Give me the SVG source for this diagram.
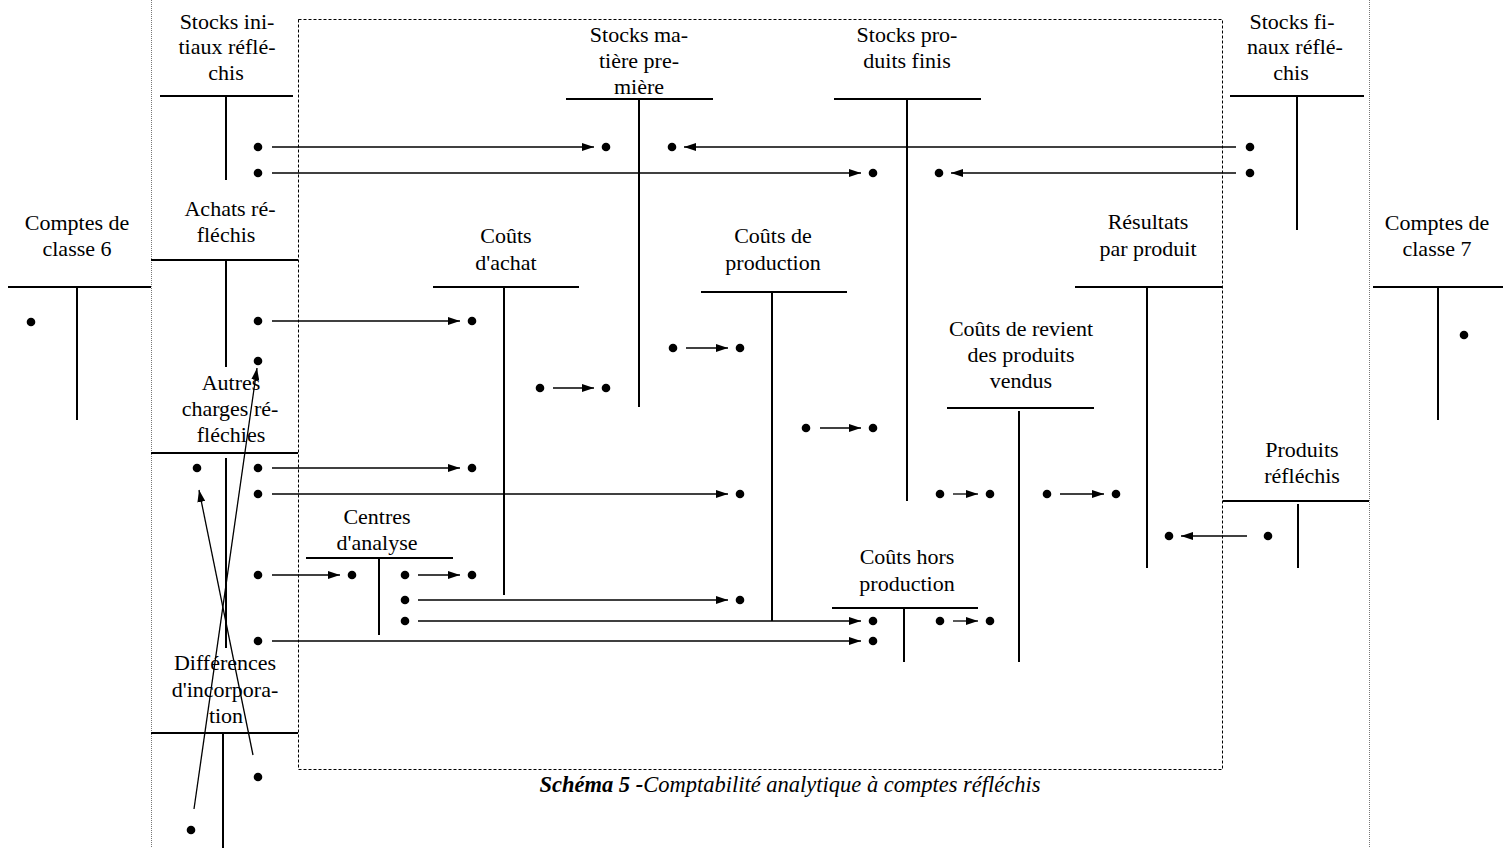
<svg xmlns="http://www.w3.org/2000/svg" width="1506" height="848" viewBox="0 0 1506 848">
<style>
text{font-family:"Liberation Serif","Times New Roman",serif;font-size:22px;fill:#000;text-anchor:middle}
.t{stroke:#000;stroke-width:2;fill:none}
.c{stroke:#000;stroke-width:1.3;fill:none}
.a{stroke:#000;stroke-width:1.3;fill:none;marker-end:url(#ah)}
.d{fill:#000}
.cap{font-size:22.5px;font-style:italic;text-anchor:middle}
</style>
<defs>
<marker id="ah" markerWidth="12" markerHeight="8" refX="12" refY="4" orient="auto" markerUnits="userSpaceOnUse">
<path d="M0,0 L12,4 L0,8 Z" fill="#000"/>
</marker>
</defs>
<rect width="1506" height="848" fill="#fff"/>
<g id="frame">
<line x1="151.5" y1="0" x2="151.5" y2="848" stroke="#777" stroke-width="1" stroke-dasharray="1,1"/>
<line x1="1369.5" y1="0" x2="1369.5" y2="848" stroke="#777" stroke-width="1" stroke-dasharray="1,1"/>
<rect x="298.5" y="19.5" width="924" height="750" fill="none" stroke="#000" stroke-width="1" stroke-dasharray="3,2"/>
</g>
<g id="comptes6">
<line class="t" x1="8" y1="287" x2="151" y2="287"/><line class="t" x1="77" y1="287" x2="77" y2="420"/>
<text x="77" y="230">Comptes de</text><text x="77" y="256">classe 6</text>
<circle class="d" cx="31" cy="322" r="4.3"/>
</g>
<g id="stocks-initiaux">
<line class="t" x1="160" y1="96" x2="293" y2="96"/><line class="t" x1="226" y1="96" x2="226" y2="180"/>
<text x="227" y="29">Stocks ini-</text><text x="227" y="54">tiaux réflé-</text><text x="226" y="80">chis</text>
<circle class="d" cx="258" cy="147" r="4.3"/><circle class="d" cx="258" cy="173" r="4.3"/>
</g>
<g id="achats">
<line class="t" x1="151" y1="260" x2="298" y2="260"/><line class="t" x1="226" y1="260" x2="226" y2="367"/>
<text x="230" y="216">Achats ré-</text><text x="226" y="242">fléchis</text>
<circle class="d" cx="258" cy="321" r="4.3"/><circle class="d" cx="258" cy="361" r="4.3"/>
</g>
<g id="autres-charges">
<line class="t" x1="151" y1="453" x2="298" y2="453"/><line class="t" x1="226" y1="458" x2="226" y2="648"/>
<text x="231" y="390">Autres</text><text x="230" y="416">charges ré-</text><text x="231" y="442">fléchies</text>
<circle class="d" cx="197" cy="468" r="4.3"/><circle class="d" cx="258" cy="468" r="4.3"/>
<circle class="d" cx="258" cy="494" r="4.3"/><circle class="d" cx="258" cy="575" r="4.3"/>
<circle class="d" cx="258" cy="641" r="4.3"/>
</g>
<g id="differences">
<line class="t" x1="151" y1="733" x2="298" y2="733"/><line class="t" x1="223" y1="733" x2="223" y2="848"/>
<text x="225" y="670">Différences</text><text x="225" y="697">d'incorpora-</text><text x="226" y="723">tion</text>
<circle class="d" cx="258" cy="777" r="4.3"/><circle class="d" cx="191" cy="830" r="4.3"/>
</g>
<g id="centres">
<line class="t" x1="306" y1="558" x2="453" y2="558"/><line class="t" x1="379" y1="558" x2="379" y2="635"/>
<text x="377" y="524">Centres</text><text x="377" y="550">d'analyse</text>
<circle class="d" cx="352" cy="575" r="4.3"/><circle class="d" cx="405" cy="575" r="4.3"/>
<circle class="d" cx="405" cy="600" r="4.3"/><circle class="d" cx="405" cy="621" r="4.3"/>
</g>
<g id="couts-achat">
<line class="t" x1="433" y1="287" x2="579" y2="287"/><line class="t" x1="504" y1="287" x2="504" y2="595"/>
<text x="506" y="243">Coûts</text><text x="506" y="270">d'achat</text>
<circle class="d" cx="472" cy="321" r="4.3"/><circle class="d" cx="472" cy="468" r="4.3"/>
<circle class="d" cx="472" cy="575" r="4.3"/><circle class="d" cx="540" cy="388" r="4.3"/>
</g>
<g id="stocks-mp">
<line class="t" x1="566" y1="99" x2="713" y2="99"/><line class="t" x1="639" y1="99" x2="639" y2="407"/>
<text x="639" y="42">Stocks ma-</text><text x="639" y="68">tière pre-</text><text x="639" y="94">mière</text>
<circle class="d" cx="606" cy="147" r="4.3"/><circle class="d" cx="672" cy="147" r="4.3"/>
<circle class="d" cx="606" cy="388" r="4.3"/>
</g>
<g id="couts-production">
<line class="t" x1="701" y1="292" x2="847" y2="292"/><line class="t" x1="772" y1="292" x2="772" y2="621"/>
<text x="773" y="243">Coûts de</text><text x="773" y="270">production</text>
<circle class="d" cx="673" cy="348" r="4.3"/><circle class="d" cx="740" cy="348" r="4.3"/>
<circle class="d" cx="740" cy="494" r="4.3"/><circle class="d" cx="740" cy="600" r="4.3"/>
<circle class="d" cx="806" cy="428" r="4.3"/>
</g>
<g id="stocks-pf">
<line class="t" x1="834" y1="99" x2="981" y2="99"/><line class="t" x1="907" y1="99" x2="907" y2="501"/>
<text x="907" y="42">Stocks pro-</text><text x="907" y="68">duits finis</text>
<circle class="d" cx="873" cy="173" r="4.3"/><circle class="d" cx="939" cy="173" r="4.3"/>
<circle class="d" cx="873" cy="428" r="4.3"/><circle class="d" cx="940" cy="494" r="4.3"/>
</g>
<g id="couts-revient">
<line class="t" x1="947" y1="408" x2="1094" y2="408"/><line class="t" x1="1019" y1="411" x2="1019" y2="662"/>
<text x="1021" y="336">Coûts de revient</text><text x="1021" y="362">des produits</text><text x="1021" y="388">vendus</text>
<circle class="d" cx="990" cy="494" r="4.3"/><circle class="d" cx="1047" cy="494" r="4.3"/>
<circle class="d" cx="990" cy="621" r="4.3"/>
</g>
<g id="couts-hors-production">
<line class="t" x1="832" y1="608" x2="978" y2="608"/><line class="t" x1="904" y1="608" x2="904" y2="662"/>
<text x="907" y="564">Coûts hors</text><text x="907" y="591">production</text>
<circle class="d" cx="873" cy="621" r="4.3"/><circle class="d" cx="873" cy="641" r="4.3"/>
<circle class="d" cx="940" cy="621" r="4.3"/>
</g>
<g id="resultats">
<line class="t" x1="1075" y1="287" x2="1222" y2="287"/><line class="t" x1="1147" y1="287" x2="1147" y2="568"/>
<text x="1148" y="229">Résultats</text><text x="1148" y="256">par produit</text>
<circle class="d" cx="1116" cy="494" r="4.3"/><circle class="d" cx="1169" cy="536" r="4.3"/>
</g>
<g id="stocks-finaux">
<line class="t" x1="1230" y1="96" x2="1364" y2="96"/><line class="t" x1="1297" y1="96" x2="1297" y2="230"/>
<text x="1292" y="29">Stocks fi-</text><text x="1295" y="54">naux réflé-</text><text x="1291" y="80">chis</text>
<circle class="d" cx="1250" cy="147" r="4.3"/><circle class="d" cx="1250" cy="173" r="4.3"/>
</g>
<g id="comptes7">
<line class="t" x1="1373" y1="287" x2="1503" y2="287"/><line class="t" x1="1438" y1="287" x2="1438" y2="420"/>
<text x="1437" y="230">Comptes de</text><text x="1437" y="256">classe 7</text>
<circle class="d" cx="1464" cy="335" r="4.3"/>
</g>
<g id="produits-reflechis">
<line class="t" x1="1223" y1="501" x2="1369" y2="501"/><line class="t" x1="1298" y1="504" x2="1298" y2="568"/>
<text x="1302" y="457">Produits</text><text x="1302" y="483">réfléchis</text>
<circle class="d" cx="1268" cy="536" r="4.3"/>
</g>
<g id="connectors">
<line class="a" x1="272" y1="147" x2="594" y2="147"/>
<line class="a" x1="272" y1="173" x2="861" y2="173"/>
<line class="a" x1="1236" y1="147" x2="684" y2="147"/>
<line class="a" x1="1236" y1="173" x2="951" y2="173"/>
<line class="a" x1="272" y1="321" x2="460" y2="321"/>
<line class="a" x1="553" y1="388" x2="594" y2="388"/>
<line class="a" x1="686" y1="348" x2="728" y2="348"/>
<line class="a" x1="820" y1="428" x2="861" y2="428"/>
<line class="a" x1="272" y1="468" x2="460" y2="468"/>
<line class="a" x1="272" y1="494" x2="728" y2="494"/>
<line class="a" x1="953" y1="494" x2="978" y2="494"/>
<line class="a" x1="1060" y1="494" x2="1104" y2="494"/>
<line class="a" x1="1247" y1="536" x2="1181" y2="536"/>
<line class="a" x1="272" y1="575" x2="340" y2="575"/>
<line class="a" x1="418" y1="575" x2="460" y2="575"/>
<line class="a" x1="418" y1="600" x2="728" y2="600"/>
<line class="a" x1="418" y1="621" x2="861" y2="621"/>
<line class="a" x1="272" y1="641" x2="861" y2="641"/>
<line class="a" x1="953" y1="621" x2="978" y2="621"/>
<line class="a" x1="194" y1="809" x2="257" y2="368"/>
<line class="a" x1="253" y1="755" x2="199" y2="490"/>
</g>
<text class="cap" x="790" y="792"><tspan font-weight="bold">Schéma 5 -</tspan>Comptabilité analytique à comptes réfléchis</text>
</svg>
